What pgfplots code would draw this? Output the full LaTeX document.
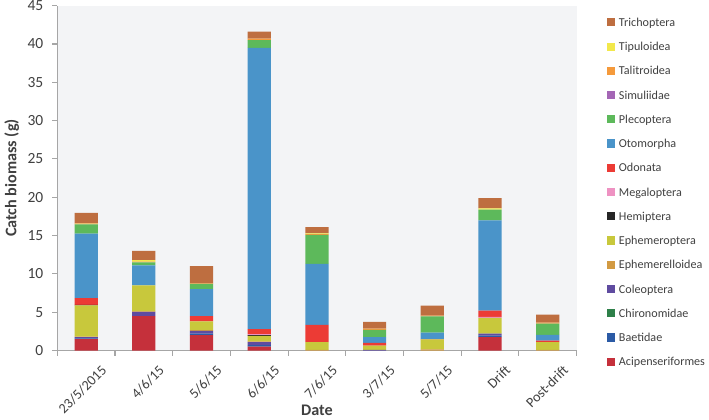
\documentclass[border=0pt]{standalone}
\usepackage{fontspec}
\setmainfont{Carlito}
\usepackage{pgfplots}
\usepackage{pgfplotstable}
\pgfplotsset{compat=1.18}

\definecolor{cTric}{HTML}{BE6E40}
\definecolor{cTipu}{HTML}{F2E84B}
\definecolor{cTali}{HTML}{F59A3B}
\definecolor{cSimu}{HTML}{A466B5}
\definecolor{cPlec}{HTML}{5DB95B}
\definecolor{cOtom}{HTML}{4A94C9}
\definecolor{cOdon}{HTML}{EC3B35}
\definecolor{cMega}{HTML}{EE92C2}
\definecolor{cHemi}{HTML}{262626}
\definecolor{cEphm}{HTML}{C8C83C}
\definecolor{cEphl}{HTML}{D29A42}
\definecolor{cCole}{HTML}{5F4BA0}
\definecolor{cChir}{HTML}{2E8049}
\definecolor{cBaet}{HTML}{2B5AA5}
\definecolor{cAcip}{HTML}{C5303B}
\definecolor{bgc}{HTML}{F3F4F6}
\definecolor{axc}{HTML}{A6A6A6}
\definecolor{txc}{HTML}{404040}

% catch biomass (g) per taxon, one row per date
\pgfplotstableread{
x Acip Baet Chir Cole Ephl Ephm Hemi Mega Odon Otom Plec Simu Tali Tipu Tric
0 1.50 0.10 0 0.15 0.05 4.10 0.05 0    0.90 8.40  1.20 0 0.10 0.05 1.35
1 4.50 0    0 0.55 0.05 3.40 0    0    0    2.60  0.40 0 0.10 0.20 1.20
2 2.00 0.20 0 0.35 0.10 1.15 0    0    0.70 3.50  0.70 0 0.05 0    2.25
3 0.50 0.20 0 0.40 0.10 0.70 0.10 0.15 0.65 36.70 1.00 0 0.20 0    0.90
4 0    0    0 0    0.10 1.00 0    0    2.25 7.95  3.80 0 0.10 0.10 0.80
5 0    0    0 0.10 0    0.55 0    0    0.35 0.75  0.95 0 0.15 0    0.90
6 0    0    0 0    0.15 1.30 0    0    0.05 0.85  2.10 0 0.10 0    1.30
7 1.75 0.20 0 0.25 0    2.05 0    0.15 0.80 11.80 1.40 0 0    0.15 1.35
8 0    0    0 0    0.10 1.00 0    0    0.20 0.75  1.45 0 0.15 0    1.05
}\catch

\begin{document}
\begin{tikzpicture}
\begin{axis}[
  scale only axis,
  width=385.5pt, height=256pt,
  ybar stacked,
  bar width=17.25pt,
  xmin=-0.5, xmax=8.5,
  ymin=0, ymax=45,
  ytick={0,5,...,45},
  xtick={0,...,8},
  xticklabels={23/5/2015, 4/6/15, 5/6/15, 6/6/15, 7/6/15, 3/7/15, 5/7/15, Drift, Post-drift},
  minor xtick={-0.5,0.5,...,8.5},
  major x tick style={draw=none},
  minor tick length=4pt,
  major tick length=3.75pt,
  tick align=outside,
  xtick pos=bottom, ytick pos=left,
  axis x line*=bottom, axis y line*=left,
  axis line style={axc, line width=0.8pt},
  tick style={axc, line width=0.8pt},
  axis background/.style={fill=bgc},
  /pgf/number format/assume math mode=true,
  tick label style={text=txc},
  y tick label style={font=\fontsize{11.5}{13}\selectfont, inner sep=0.5pt, xshift=-6pt},
  x tick label style={font=\fontsize{10.5}{12}\selectfont, rotate=45,
    anchor=north east, inner sep=1pt, yshift=-11pt, xshift=4pt},
  xlabel={\textbf{Date}},
  ylabel={\textbf{Catch biomass (g)}},
  label style={font=\fontsize{12}{14}\selectfont, text=txc},
  xlabel style={at={(axis description cs:0.5,-0.172)}, anchor=center},
  ylabel style={at={(axis description cs:-0.0875,0.5)}, anchor=center},
  reverse legend,
  legend cell align=left,
  legend style={at={(1.05,0.98)}, anchor=north west, draw=none, fill=none,
    font=\fontsize{9}{11}\selectfont, text=txc,
    nodes={inner sep=0pt, text height=8pt, text depth=2pt},
    row sep=8pt, column sep=3pt},
  legend image code/.code={\fill[#1] (0pt,-3pt) rectangle (6pt,3pt);},
  every axis plot/.append style={draw=none},
]
\addplot[fill=cAcip] table[x=x, y=Acip] {\catch};
\addlegendentry{Acipenseriformes}
\addplot[fill=cBaet] table[x=x, y=Baet] {\catch};
\addlegendentry{Baetidae}
\addplot[fill=cChir] table[x=x, y=Chir] {\catch};
\addlegendentry{Chironomidae}
\addplot[fill=cCole] table[x=x, y=Cole] {\catch};
\addlegendentry{Coleoptera}
\addplot[fill=cEphl] table[x=x, y=Ephl] {\catch};
\addlegendentry{Ephemerelloidea}
\addplot[fill=cEphm] table[x=x, y=Ephm] {\catch};
\addlegendentry{Ephemeroptera}
\addplot[fill=cHemi] table[x=x, y=Hemi] {\catch};
\addlegendentry{Hemiptera}
\addplot[fill=cMega] table[x=x, y=Mega] {\catch};
\addlegendentry{Megaloptera}
\addplot[fill=cOdon] table[x=x, y=Odon] {\catch};
\addlegendentry{Odonata}
\addplot[fill=cOtom] table[x=x, y=Otom] {\catch};
\addlegendentry{Otomorpha}
\addplot[fill=cPlec] table[x=x, y=Plec] {\catch};
\addlegendentry{Plecoptera}
\addplot[fill=cSimu] table[x=x, y=Simu] {\catch};
\addlegendentry{Simuliidae}
\addplot[fill=cTali] table[x=x, y=Tali] {\catch};
\addlegendentry{Talitroidea}
\addplot[fill=cTipu] table[x=x, y=Tipu] {\catch};
\addlegendentry{Tipuloidea}
\addplot[fill=cTric] table[x=x, y=Tric] {\catch};
\addlegendentry{Trichoptera}
\end{axis}
\end{tikzpicture}
\end{document}
